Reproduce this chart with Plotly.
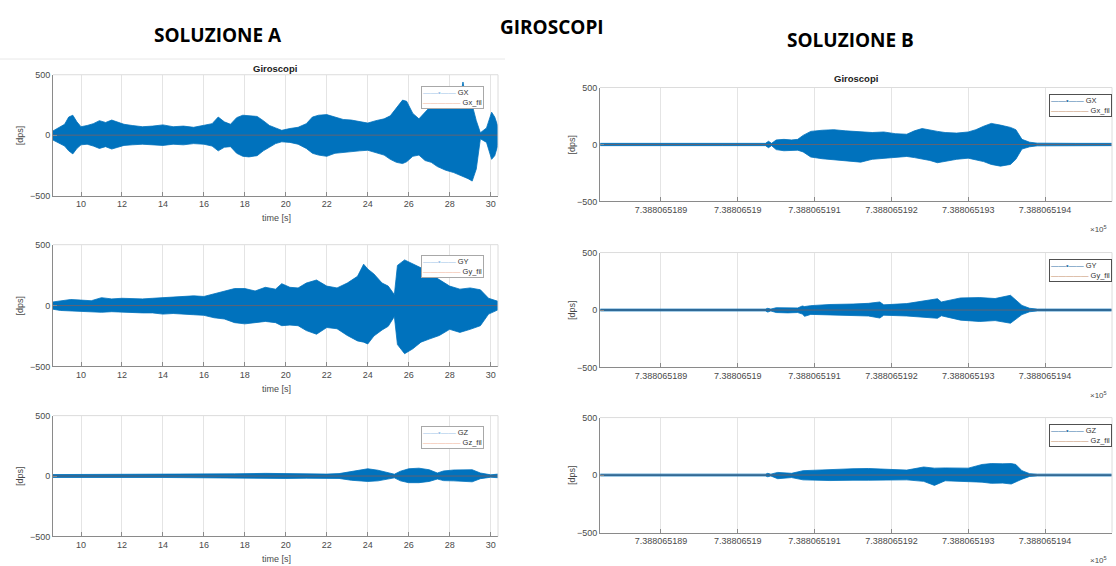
import plotly.graph_objects as go

W, H = 1116, 566

# ------------------------------------------------------------------
# DATA  (envelopes, dps)
# ------------------------------------------------------------------
# --- SOLUZIONE A : x = time [s]
gx_a_t = [8.63, 8.9, 9.2, 9.4, 9.6, 9.8, 10.0, 10.3, 10.6, 10.9, 11.2, 11.5, 11.8,
          12.1, 12.5, 13.0, 13.5, 14.0, 14.5, 15.0, 15.5, 16.0, 16.4, 16.7, 17.0,
          17.3, 17.6, 17.9, 18.2, 18.6, 18.9, 19.2, 19.5, 19.8, 20.2, 20.6, 21.0,
          21.3, 21.6, 22.0, 22.4, 22.8, 23.2, 23.6, 24.0, 24.4, 24.8, 25.1, 25.4,
          25.7, 25.9, 26.2, 26.5, 26.8, 27.1, 27.4, 27.8, 28.2, 28.55, 28.65, 28.75,
          28.9, 29.1, 29.3, 29.5, 29.8, 30.05, 30.2, 30.36]
gx_a_hi = [35, 60, 90, 150, 165, 110, 70, 80, 95, 120, 105, 125, 110,
           90, 80, 70, 75, 85, 70, 75, 65, 85, 95, 150, 110,
           90, 145, 165, 160, 155, 120, 80, 60, 40, 55, 65, 95,
           150, 165, 170, 150, 130, 125, 110, 100, 120, 135, 160, 230,
           290, 280, 180, 135, 190, 240, 300, 330, 350, 340, 440, 340,
           330, 250, 120, 20, 60, 190, 150, 70]
gx_a_lo = [-40, -60, -90, -130, -155, -110, -80, -75, -90, -110, -95, -115, -100,
           -85, -80, -75, -80, -85, -75, -80, -70, -75, -90, -130, -100,
           -95, -150, -175, -180, -170, -130, -100, -70, -55, -60, -75, -110,
           -150, -165, -175, -150, -140, -135, -130, -125, -145, -165, -200, -225,
           -235, -220, -175, -165, -210, -225, -260, -290, -310, -330, -340, -350,
           -360, -380, -280, -30, -60, -200, -170, -80]
gx_a_fil_t = [8.63, 12.0, 16.0, 20.0, 24.0, 27.8, 28.5, 29.2, 30.36]
gx_a_fil = [0, 0, 0, 0, 0, 3, 6, 2, 0]

gy_a_t = [8.63, 9.0, 9.5, 10.0, 10.5, 11.0, 11.5, 12.0, 12.5, 13.0, 13.5, 14.0,
          14.5, 15.0, 15.5, 16.0, 16.5, 17.0, 17.5, 18.0, 18.5, 19.0, 19.5, 19.8,
          20.2, 20.6, 21.0, 21.5, 22.0, 22.5, 23.0, 23.5, 23.8, 24.0, 24.3, 24.7,
          25.0, 25.3, 25.45, 25.8, 26.2, 26.6, 27.0, 27.5, 28.0, 28.5, 29.0, 29.5,
          29.9, 30.36]
gy_a_hi = [30, 40, 50, 45, 40, 65, 55, 60, 55, 55, 60, 65,
           70, 70, 80, 75, 95, 115, 140, 140, 120, 150, 135, 180,
           150, 145, 185, 210, 160, 145, 185, 240, 340, 300, 260, 185,
           160, 90, 330, 375, 345, 310, 265, 215, 160, 135, 145, 130,
           60, 35]
gy_a_lo = [-30, -40, -45, -45, -50, -55, -50, -55, -55, -60, -60, -70,
           -65, -70, -75, -80, -100, -110, -140, -150, -140, -130, -140, -165,
           -160, -165, -205, -235, -180, -190, -245, -290, -300, -315, -250, -200,
           -170, -90, -320, -395, -355, -300, -275, -245, -195, -220, -195, -165,
           -70, -35]
gy_a_fil_t = [8.63, 14.0, 20.0, 26.0, 30.36]
gy_a_fil = [0, 0, 0, 0, 0]

gz_a_t = [8.63, 10.0, 12.0, 14.0, 16.0, 17.5, 19.0, 20.0, 21.0, 22.0, 22.6, 23.2,
          23.6, 24.0, 24.5, 25.0, 25.3, 25.6, 26.0, 26.5, 27.0, 27.4, 27.7, 28.2,
          28.7, 29.1, 29.5, 30.0, 30.36]
gz_a_hi = [12, 12, 12, 12, 14, 18, 22, 18, 18, 16, 20, 35,
           45, 60, 48, 28, 15, 40, 60, 65, 52, 25, 42, 50,
           48, 52, 25, 10, 16]
gz_a_lo = [-12, -12, -12, -12, -14, -18, -18, -20, -18, -18, -20, -35,
           -40, -45, -40, -25, -15, -40, -55, -55, -45, -25, -38, -40,
           -42, -48, -22, -10, -14]
gz_a_fil_t = [8.63, 14.0, 20.0, 26.0, 30.36]
gz_a_fil = [0, 0, 0, 0, 0]

a_ticks = [10, 12, 14, 16, 18, 20, 22, 24, 26, 28, 30]

# --- SOLUZIONE B : x = datenum (axis shown as value x 10^5)
gx_b_t = [738806.518821, 738806.51890, 738806.51898, 738806.519036, 738806.519040,
          738806.519044, 738806.519050, 738806.519060, 738806.519070, 738806.519078,
          738806.519085, 738806.519095, 738806.519110, 738806.519125, 738806.519140,
          738806.519160, 738806.519175, 738806.519190, 738806.519205, 738806.519220,
          738806.519230, 738806.519240, 738806.519250, 738806.519260, 738806.519270,
          738806.519285, 738806.519300, 738806.519310, 738806.519320, 738806.519330,
          738806.519342, 738806.519355, 738806.519362, 738806.519370, 738806.519380,
          738806.519390, 738806.519440, 738806.519487]
gx_b_hi = [10, 10, 10, 10, 28, 10, 40, 45, 40, 45, 80, 115, 125, 130, 120, 115, 105,
           110, 95, 90, 120, 140, 125, 115, 105, 100, 110, 130, 160, 185, 170, 150,
           130, 45, 20, 12, 10, 10]
gx_b_lo = [-10, -10, -10, -10, -28, -10, -45, -55, -50, -50, -65, -110, -125, -135,
           -145, -155, -130, -125, -115, -105, -115, -125, -140, -160, -150, -130,
           -120, -135, -150, -175, -190, -175, -130, -40, -20, -12, -10, -10]
gx_b_fil_t = [738806.518821, 738806.51905, 738806.51920, 738806.51936, 738806.519487]
gx_b_fil = [0, 0, 0, 0, 0]

gy_b_t = [738806.518821, 738806.519036, 738806.519039, 738806.519043, 738806.519050,
          738806.519065, 738806.519078, 738806.519084, 738806.519087, 738806.519095,
          738806.519120, 738806.519150, 738806.519170, 738806.519185, 738806.519190,
          738806.519220, 738806.519240, 738806.519260, 738806.519265, 738806.519290,
          738806.519315, 738806.519335, 738806.519355, 738806.519362, 738806.519370,
          738806.519380, 738806.519390, 738806.519487]
gy_b_hi = [8, 8, 15, 8, 20, 22, 18, 35, 30, 38, 48, 52, 58, 70, 45, 56, 78, 98, 70,
           105, 108, 100, 128, 90, 40, 15, 8, 8]
gy_b_lo = [-8, -8, -18, -8, -22, -25, -22, -35, -55, -38, -42, -48, -52, -70, -45,
           -52, -62, -72, -50, -88, -100, -92, -115, -80, -40, -15, -8, -8]
gy_b_fil_t = [738806.518821, 738806.51905, 738806.51920, 738806.51936, 738806.519487]
gy_b_fil = [0, 0, 0, 0, 0]

gz_b_t = [738806.518821, 738806.519036, 738806.519039, 738806.519043, 738806.519052,
          738806.519070, 738806.519085, 738806.519120, 738806.519150, 738806.519170,
          738806.519200, 738806.519220, 738806.519242, 738806.519256, 738806.519270,
          738806.519300, 738806.519318, 738806.519330, 738806.519345, 738806.519356,
          738806.519362, 738806.519370, 738806.519380, 738806.519390, 738806.519487]
gz_b_hi = [8, 8, 15, 8, 23, 15, 38, 50, 55, 57, 50, 43, 70, 60, 62, 60, 92, 100, 98,
           100, 92, 38, 12, 8, 8]
gz_b_lo = [-8, -8, -15, -8, -32, -22, -42, -48, -45, -45, -45, -42, -55, -90, -50,
           -58, -62, -72, -70, -78, -60, -36, -12, -8, -8]
gz_b_fil_t = [738806.518821, 738806.51905, 738806.51920, 738806.51936, 738806.519487]
gz_b_fil = [0, 0, 0, 0, 0]

b_ticks = [738806.5189, 738806.5190, 738806.5191, 738806.5192, 738806.5193, 738806.5194]
b_tick_labels = ["7.388065189", "7.38806519", "7.388065191", "7.388065192",
                 "7.388065193", "7.388065194"]

# ------------------------------------------------------------------
# LAYOUT GEOMETRY (pixels of the 1116x566 page)
# ------------------------------------------------------------------
A_X = (53, 498)
A_Y = [(71, 194), (244, 368), (418, 541)]
B_X = (600, 1112)
B_Y = [(84, 200), (252, 369), (420, 537)]
A_RANGE = [8.633, 30.36]
B_RANGE = [738806.5188206, 738806.5194872]

BLUE = "#0072BD"
ORANGE = "#D95319"
GRAYTXT = "#4a4a4a"


def fx(p):
    return p / W


def fy(p):
    return 1 - p / H


def label(text, px, py, size, color=GRAYTXT, family=None, angle=0):
    f = dict(size=size, color=color)
    if family:
        f["family"] = family
    return dict(text=text, xref="paper", yref="paper", x=fx(px), y=fy(py),
                xanchor="center", yanchor="middle", showarrow=False, font=f,
                textangle=angle)


panels = [
    dict(t=gx_a_t, hi=gx_a_hi, lo=gx_a_lo, ft=gx_a_fil_t, fv=gx_a_fil, names=("GX", "Gx_fil"), col="A", row=0),
    dict(t=gy_a_t, hi=gy_a_hi, lo=gy_a_lo, ft=gy_a_fil_t, fv=gy_a_fil, names=("GY", "Gy_fil"), col="A", row=1),
    dict(t=gz_a_t, hi=gz_a_hi, lo=gz_a_lo, ft=gz_a_fil_t, fv=gz_a_fil, names=("GZ", "Gz_fil"), col="A", row=2),
    dict(t=gx_b_t, hi=gx_b_hi, lo=gx_b_lo, ft=gx_b_fil_t, fv=gx_b_fil, names=("GX", "Gx_fil"), col="B", row=0),
    dict(t=gy_b_t, hi=gy_b_hi, lo=gy_b_lo, ft=gy_b_fil_t, fv=gy_b_fil, names=("GY", "Gy_fil"), col="B", row=1),
    dict(t=gz_b_t, hi=gz_b_hi, lo=gz_b_lo, ft=gz_b_fil_t, fv=gz_b_fil, names=("GZ", "Gz_fil"), col="B", row=2),
]

fig = go.Figure()
layout = dict(
    width=W, height=H, autosize=False,
    margin=dict(l=0, r=0, t=0, b=0),
    paper_bgcolor="white", plot_bgcolor="white",
    showlegend=False,
    font=dict(family="Liberation Sans, Arial, sans-serif", color="#404040"),
)
annotations = []
shapes = []

TICKFONT = dict(family="Liberation Sans, Arial, sans-serif", size=9, color=GRAYTXT)

for i, p in enumerate(panels):
    n = i + 1
    xa = "x" if n == 1 else f"x{n}"
    ya = "y" if n == 1 else f"y{n}"
    xkey = "xaxis" if n == 1 else f"xaxis{n}"
    ykey = "yaxis" if n == 1 else f"yaxis{n}"
    if p["col"] == "A":
        X0, X1 = A_X
        Y0, Y1 = A_Y[p["row"]]
    else:
        X0, X1 = B_X
        Y0, Y1 = B_Y[p["row"]]

    # envelope polygon of the raw signal
    xs = list(p["t"]) + list(p["t"])[::-1]
    ys = list(p["hi"]) + list(p["lo"])[::-1]
    fig.add_trace(go.Scatter(x=xs, y=ys, mode="lines", fill="toself", fillcolor=BLUE,
                             line=dict(color=BLUE, width=0.8), name=p["names"][0],
                             xaxis=xa, yaxis=ya, hoverinfo="skip"))
    # filtered signal
    fig.add_trace(go.Scatter(x=p["ft"], y=p["fv"], mode="lines",
                             line=dict(color=ORANGE, width=0.8), opacity=0.55,
                             name=p["names"][1], xaxis=xa, yaxis=ya))

    xaxis = dict(domain=[fx(X0), fx(X1)], anchor=ya, showgrid=True, gridcolor="#e4e4e4",
                 gridwidth=1, zeroline=False, showline=True, linecolor="#8a8a8a",
                 linewidth=1, ticks="inside", ticklen=4, tickcolor="#8a8a8a",
                 tickfont=TICKFONT, fixedrange=True)
    if p["col"] == "A":
        xaxis.update(range=A_RANGE, tickmode="array", tickvals=a_ticks)
    else:
        xaxis.update(range=B_RANGE, tickmode="array", tickvals=b_ticks, ticktext=b_tick_labels)
    yaxis = dict(domain=[fy(Y1), fy(Y0)], anchor=xa, range=[-500, 500],
                 tickmode="array", tickvals=[-500, 0, 500], showgrid=False,
                 zeroline=False, showline=True, linecolor="#8a8a8a", linewidth=1,
                 ticks="inside", ticklen=4, tickcolor="#8a8a8a", tickfont=TICKFONT,
                 fixedrange=True)
    layout[xkey] = xaxis
    layout[ykey] = yaxis

    # light box (top / right) as in the MATLAB axes
    shapes.append(dict(type="line", xref=f"{xa} domain", yref=f"{ya} domain",
                       x0=0, x1=1, y0=1, y1=1, line=dict(color="#dcdcdc", width=1)))
    shapes.append(dict(type="line", xref=f"{xa} domain", yref=f"{ya} domain",
                       x0=1, x1=1, y0=0, y1=1, line=dict(color="#dcdcdc", width=1)))

    # y label
    annotations.append(label("[dps]", 20 if p["col"] == "A" else 572, (Y0 + Y1) / 2, 9, angle=-90))
    # x label / multiplier
    if p["col"] == "A":
        annotations.append(label("time [s]", 276, Y1 + 23, 9))
    else:
        annotations.append(label("\u00d710<sup>5</sup>", 1098, Y1 + 28, 8))

    # legend box
    if p["col"] == "A":
        lb, lo_, bc = "#9ec5e8", "#f2b49a", "#a8a8a8"
        lx, ly = 421, Y0 + 11
    else:
        lb, lo_, bc = "#2f73a8", "#c8906a", "#505050"
        lx, ly = 1049, Y0 + 7
    leg_txt = (f"<span style='color:{lb}'>\u2014\u2014\u2022\u2014\u2014</span> {p['names'][0]}<br>"
               f"<span style='color:{lo_}'>\u2014\u2014\u2014\u2014\u2014</span> {p['names'][1]}")
    annotations.append(dict(text=leg_txt, xref="paper", yref="paper", x=fx(lx), y=fy(ly),
                            xanchor="left", yanchor="top", align="left", showarrow=False,
                            bgcolor="white", bordercolor=bc, borderwidth=1, borderpad=1,
                            font=dict(size=7.5, color="#333333")))

# subplot titles
annotations.append(label("<b>Giroscopi</b>", 275, 65, 9.5, color="#222222"))
annotations.append(label("<b>Giroscopi</b>", 856, 75, 9.5, color="#222222"))
# page headers
HEADF = "Open Sans, Liberation Sans, sans-serif"
annotations.append(label("<b>SOLUZIONE A</b>", 218, 31, 19, color="#000000", family=HEADF))
annotations.append(label("<b>GIROSCOPI</b>", 552, 22, 19, color="#000000", family=HEADF))
annotations.append(label("<b>SOLUZIONE B</b>", 850, 36, 19, color="#000000", family=HEADF))

# thin separator line of the screenshot above panel A1
shapes.append(dict(type="line", xref="paper", yref="paper", x0=0, x1=fx(505), y0=fy(55), y1=fy(55),
                   line=dict(color="#e8e8e8", width=1)))

layout["annotations"] = annotations
layout["shapes"] = shapes
fig.update_layout(**layout)
fig.write_html("out.html")
